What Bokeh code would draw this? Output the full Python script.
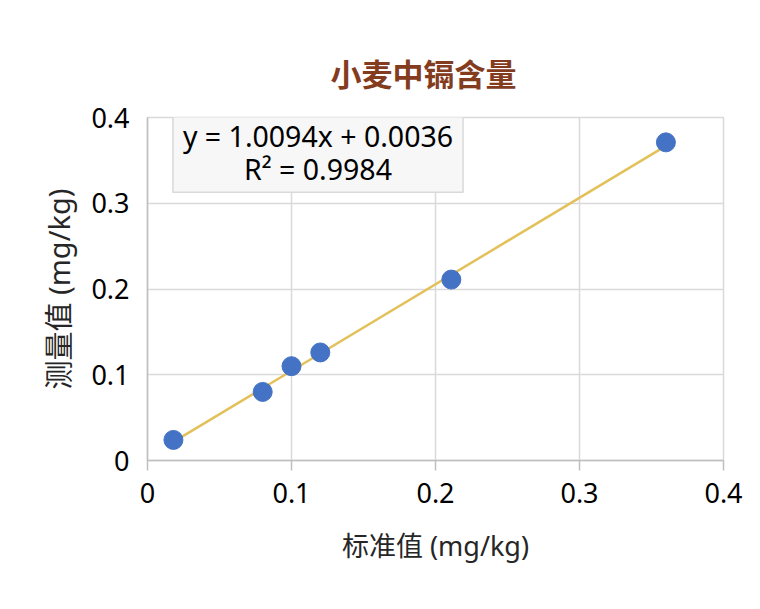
from bokeh.plotting import figure
from bokeh.models import Label, FixedTicker, ColumnDataSource
from bokeh.embed import file_html
from bokeh.resources import INLINE

# ---- data ----
standard = [0.018, 0.080, 0.100, 0.120, 0.211, 0.360]
measured = [0.024, 0.080, 0.110, 0.126, 0.211, 0.371]
slope = 1.0094
intercept = 0.0036
r2 = 0.9984
ticks = [0.0, 0.1, 0.2, 0.3, 0.4]
tick_labels = ["0", "0.1", "0.2", "0.3", "0.4"]
title_text = "小麦中镉含量"
x_label = "标准值 (mg/kg)"
y_label = "测量值 (mg/kg)"

FONT = "'Noto Sans', 'Noto Sans CJK SC'"
CJK = "'Noto Sans CJK SC'"

p = figure(width=744, height=593, output_backend="svg", toolbar_location=None,
           x_range=(0, 0.4), y_range=(0, 0.4),
           min_border_left=147, min_border_right=21, min_border_top=117, min_border_bottom=133)

p.title.text = title_text
p.title.text_font = CJK
p.title.text_font_size = "31px"
p.title.text_font_style = "bold"
p.title.text_color = "#843C1F"
p.title.align = "left"
p.title.offset = 183
p.title.standoff = 46

p.background_fill_color = "white"
p.outline_line_color = "#D9D9D9"
p.outline_line_width = 1.5

for ax in (p.xaxis[0], p.yaxis[0]):
    ax.ticker = FixedTicker(ticks=ticks)
    ax.major_label_overrides = {t: l for t, l in zip(ticks, tick_labels)}
    ax.major_label_text_font = FONT
    ax.major_label_text_font_size = "27px"
    ax.major_label_text_color = "#000000"
    ax.axis_label_text_font = FONT
    ax.axis_label_text_font_style = "normal"
    ax.axis_label_text_color = "#262626"
    ax.axis_line_color = "#BFBFBF"
    ax.axis_line_width = 1.5
    ax.minor_tick_line_color = None

p.xaxis.axis_label = x_label
p.yaxis.axis_label = y_label
p.xaxis.axis_label_text_font_size = "27px"
p.yaxis.axis_label_text_font_size = "29px"
p.xaxis.major_tick_out = 10
p.xaxis.major_tick_in = 0
p.xaxis.major_tick_line_color = "#BFBFBF"
p.xaxis.major_tick_line_width = 1.5
p.xaxis.major_label_standoff = 12
p.xaxis.axis_label_standoff = 21
p.yaxis.major_tick_out = 0
p.yaxis.major_tick_in = 0
p.yaxis.major_label_standoff = 18
p.yaxis.axis_label_standoff = 10

p.grid.grid_line_color = "#D9D9D9"
p.grid.grid_line_width = 1.5
p.grid.ticker = FixedTicker(ticks=ticks)

# trend line
xl = [min(standard), max(standard)]
yl = [slope * v + intercept for v in xl]
p.line(xl, yl, line_color="#E3C15A", line_width=2.5)

src = ColumnDataSource(dict(x=standard, y=measured))
p.scatter("x", "y", source=src, size=19, fill_color="#4472C4", line_color="#4472C4")

lab = Label(x=0.1184, y=0.4047, text=f"y = {slope}x + {intercept}\nR² = {r2}",
            text_align="center", text_baseline="top",
            text_font=FONT, text_font_size="28.5px", text_color="#000000",
            text_line_height=0.86,
            background_fill_color="#F7F7F7", border_line_color="#D9D9D9", border_line_width=1.5,
            padding=(10, 4))
p.add_layout(lab)

open("out.html", "w").write(file_html(p, INLINE))
